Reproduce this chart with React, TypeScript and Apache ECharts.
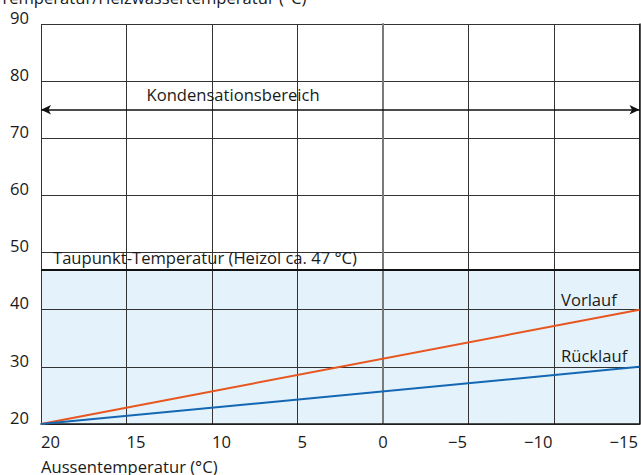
import React, { useEffect, useRef } from "react";
import * as echarts from "echarts";

const FONT = '"Open Sans", sans-serif';
const FS = 16.6;
const TEXT = "#1a1a1a";

const xTicks = [20, 15, 10, 5, 0, -5, -10, -15];
const yMin = 20;
const yMax = 90;
const yStep = 10;
const outsideTemp = [20, -15];
const vorlauf = [20, 40];
const ruecklauf = [20, 30];
const dewPoint = 47;
const condensationLevel = 75;

const yTitle = "Temperatur/Heizwassertemperatur (°C)";
const xTitle = "Aussentemperatur (°C)";
const dewLabel = "Taupunkt-Temperatur (Heizöl ca. 47 °C)";
const condLabel = "Kondensationsbereich";
const vorlaufName = "Vorlauf";
const ruecklaufName = "Rücklauf";

const fmt = (v: number) => (v < 0 ? "\u2212" + Math.abs(v) : String(v));

function measure(t: string): number {
  const c = document.createElement("canvas").getContext("2d");
  if (!c) return t.length * FS * 0.57;
  c.font = `${FS}px "Open Sans"`;
  return c.measureText(t).width;
}

export default function App() {
  const ref = useRef<HTMLDivElement>(null);
  useEffect(() => {
    if (!ref.current) return;
    const chart = echarts.init(ref.current, undefined, { renderer: "svg" });

    const rich: Record<string, any> = {};
    xTicks.forEach((v) => {
      const t = fmt(v);
      const w = measure(t);
      const key = v > 0 ? "p" + v : v < 0 ? "n" + Math.abs(v) : "z";
      rich[key] = {
        fontFamily: FONT,
        fontSize: FS,
        color: TEXT,
        padding: v > 0 ? [0, 0, 0, w] : v < 0 ? [0, w + 3, 0, 0] : [0, 0, 0, 0],
      };
    });

    const labelKey = (v: number) =>
      v > 0 ? "p" + v : v < 0 ? "n" + Math.abs(v) : "z";

    const textLabel = (dx: number, dy: number) => ({
      show: true,
      position: [dx, dy],
      align: "left",
      verticalAlign: "middle",
      color: TEXT,
      fontFamily: FONT,
      fontSize: FS,
    });

    chart.setOption({
      animation: false,
      textStyle: { fontFamily: FONT },
      grid: { left: 41, right: 1, top: 24, bottom: 51, containLabel: false },
      xAxis: {
        type: "value",
        inverse: true,
        min: -15,
        max: 20,
        interval: 5,
        z: 2,
        axisLine: { show: true, onZero: false, lineStyle: { color: "#1a1a1a", width: 1.5 } },
        axisTick: { show: false },
        splitLine: { show: true, lineStyle: { color: "#333", width: 1 } },
        axisLabel: {
          show: true,
          margin: 9,
          showMinLabel: true,
          showMaxLabel: true,
          formatter: (v: number) => `{${labelKey(v)}|${fmt(v)}}`,
          rich,
        },
      },
      yAxis: [
        {
          type: "value",
          min: yMin,
          max: yMax,
          interval: yStep,
          z: 2,
          axisLine: { show: true, lineStyle: { color: "#7a7a7a", width: 2 } },
          axisTick: { show: false },
          splitLine: { show: true, lineStyle: { color: "#333", width: 1 } },
          axisLabel: {
            show: true,
            margin: 12,
            color: TEXT,
            fontFamily: FONT,
            fontSize: FS,
            verticalAlign: "bottom",
            lineHeight: FS - 3,
            showMinLabel: true,
            showMaxLabel: true,
          },
        },
        {
          type: "value",
          position: "right",
          min: yMin,
          max: yMax,
          interval: yStep,
          z: 2,
          axisLine: { show: true, lineStyle: { color: "#1a1a1a", width: 1.5 } },
          axisTick: { show: false },
          axisLabel: { show: false },
          splitLine: { show: false },
        },
      ],
      series: [
        {
          name: vorlaufName,
          type: "line",
          z: 3,
          symbol: "none",
          data: outsideTemp.map((x, i) => [x, vorlauf[i]]),
          lineStyle: { color: "#e8561f", width: 2 },
          markArea: {
            silent: true,
            z: 1,
            itemStyle: { color: "#e3f2fb" },
            data: [[{ yAxis: yMin }, { yAxis: dewPoint }]],
          },
          markLine: {
            silent: true,
            symbol: ["none", "none"],
            label: { show: false },
            data: [
              { yAxis: dewPoint, lineStyle: { color: "#111", width: 2, type: "solid" } },
              [
                {
                  coord: [outsideTemp[0], condensationLevel],
                  symbol: "arrow",
                  symbolSize: [7, 10],
                  lineStyle: { color: "#111", width: 1.5, type: "solid" },
                },
                {
                  coord: [outsideTemp[1], condensationLevel],
                  symbol: "arrow",
                  symbolSize: [7, 10],
                },
              ],
            ],
          },
          markPoint: {
            silent: true,
            symbol: "circle",
            symbolSize: 0,
            itemStyle: { color: "rgba(0,0,0,0)" },
            data: [
              { coord: [15, condensationLevel], label: { ...textLabel(20, -15), formatter: condLabel } },
              { coord: [20, dewPoint], label: { ...textLabel(12, -12), formatter: dewLabel } },
              { coord: [-10, 40], label: { ...textLabel(7, -10.5), formatter: vorlaufName } },
              { coord: [-10, 30], label: { ...textLabel(7, -11), formatter: ruecklaufName } },
            ],
          },
        },
        {
          name: ruecklaufName,
          type: "line",
          z: 3,
          symbol: "none",
          data: outsideTemp.map((x, i) => [x, ruecklauf[i]]),
          lineStyle: { color: "#1467b3", width: 2 },
        },
      ],
      graphic: [
        {
          type: "text",
          x: 0,
          y: -3,
          style: {
            text: yTitle,
            fill: TEXT,
            fontFamily: FONT,
            fontSize: FS,
            verticalAlign: "middle",
            align: "left",
          },
        },
        {
          type: "text",
          x: 41,
          y: 466.5,
          style: {
            text: xTitle,
            fill: TEXT,
            fontFamily: FONT,
            fontSize: FS,
            verticalAlign: "middle",
            align: "left",
          },
        },
      ],
    });
    return () => chart.dispose();
  }, []);
  return (
    <div
      ref={ref}
      style={{ position: "absolute", left: 0, top: 0, width: 641, height: 475 }}
    />
  );
}
